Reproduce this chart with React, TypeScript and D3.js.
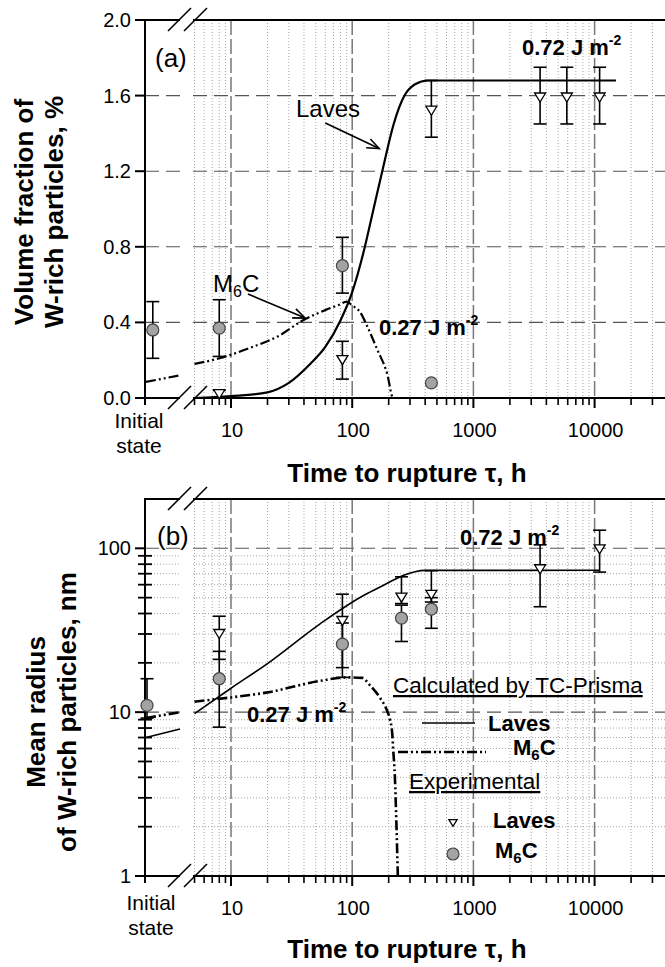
import React from 'react';
import * as d3 from 'd3';

const W = 665;
const H = 967;

// ---------- shared axis data ----------
const xMajorTicks = [10, 100, 1000, 10000];
const xMajorLabels = ['10', '100', '1000', '10000'];
const xDomain: [number, number] = [5, 50000];

// ---------- panel (a) ----------
const yTicksA = [0, 0.4, 0.8, 1.2, 1.6, 2.0];
const yTickLabelsA = ['0.0', '0.4', '0.8', '1.2', '1.6', '2.0'];
const lavesCurveA: [number, number][] = [
  [5, 0], [10, 0.01], [20, 0.03], [30, 0.08], [45, 0.18], [60, 0.27], [80, 0.41],
  [100, 0.56], [125, 0.78], [150, 1.0], [180, 1.22], [220, 1.45], [270, 1.6],
  [330, 1.66], [420, 1.68], [15000, 1.68],
];
const m6cCurveA: [number, number][] = [
  [5, 0.18], [8, 0.21], [15, 0.27], [25, 0.33], [39, 0.41], [60, 0.465], [79, 0.495],
  [90, 0.51], [100, 0.49], [116, 0.455], [133, 0.38], [160, 0.26], [194, 0.13],
  [218, 0], [2000, 0],
];
const m6cPreA: [number, number][] = [[0, 0.085], [1, 0.12]];
const lavesPointsA = [
  { t: 8, v: 0.02, lo: 0.0, hi: 0.04 },
  { t: 83, v: 0.2, lo: 0.1, hi: 0.3 },
  { t: 450, v: 1.52, lo: 1.38, hi: 1.68 },
  { t: 3550, v: 1.59, lo: 1.45, hi: 1.75 },
  { t: 5900, v: 1.59, lo: 1.45, hi: 1.75 },
  { t: 11000, v: 1.59, lo: 1.45, hi: 1.75 },
];
const m6cPointsA = [
  { t: 8, v: 0.37, lo: 0.22, hi: 0.52 },
  { t: 83, v: 0.7, lo: 0.555, hi: 0.85 },
  { t: 450, v: 0.08, lo: 0.08, hi: 0.08 },
];
const m6cInitialA = { p: 0.2, v: 0.36, lo: 0.21, hi: 0.51 };

// ---------- panel (b) ----------
const yTicksB = [1, 10, 100];
const yTickLabelsB = ['1', '10', '100'];
const lavesCurveB: [number, number][] = [
  [5, 9.8], [10, 14], [20, 19.8], [54, 34.5], [121, 51], [170, 58], [249, 67],
  [274, 69], [330, 72], [400, 73.3], [11000, 73.5],
];
const lavesPreB: [number, number][] = [[0, 7.0], [1, 7.9]];
const m6cCurveB: [number, number][] = [
  [5, 11.6], [10, 12.3], [20, 13.2], [54, 15.5], [90, 16.3], [121, 16.2], [141, 14.5],
  [170, 12.2], [193, 10.3], [205, 9], [214, 7.4], [218, 5.9], [225, 4], [232, 2], [238, 1],
];
const m6cPreB: [number, number][] = [[0, 9.2], [1, 10]];
const lavesPointsB = [
  { t: 8, v: 30, lo: 21, hi: 38.5 },
  { t: 83, v: 36, lo: 18.7, hi: 52.5 },
  { t: 255, v: 50, lo: 46, hi: 67 },
  { t: 450, v: 52, lo: 47, hi: 73 },
  { t: 3550, v: 74.5, lo: 44, hi: 105 },
  { t: 11000, v: 98.6, lo: 71.6, hi: 129 },
];
const m6cPointsB = [
  { t: 8, v: 16, lo: 8.1, hi: 23.5 },
  { t: 83, v: 26, lo: 16.3, hi: 35 },
  { t: 255, v: 37.5, lo: 27, hi: 45 },
  { t: 450, v: 42.5, lo: 32.5, hi: 50 },
];
const m6cInitialB = { p: 0.03, v: 11, lo: 9.2, hi: 16 };

// ---------- layout ----------
const AXIS_X = 145;
const BREAK_GAP: [number, number] = [180, 193];
const FONT = 'Liberation Sans, Arial, Helvetica, sans-serif';
const DASH_DOT_DOT = '10 3 2 3 2 3';

const x = d3.scaleLog().domain(xDomain).range([231 - 121.2 * Math.log10(2), 231 + 121.2 * Math.log10(5000)]);
const xPre = d3.scaleLinear().domain([0, 1]).range([146, 180]);

const minorX: number[] = [];
for (let d = 0; d <= 4; d++) for (let k = 2; k <= 9; k++) {
  const v = k * Math.pow(10, d);
  if (v >= 5 && v <= 40000) minorX.push(v);
}
const minorYB: number[] = [];
for (let d = 0; d <= 1; d++) for (let k = 2; k <= 9; k++) minorYB.push(k * Math.pow(10, d));

type YScale = (v: number) => number;

function hSegments(y: number, key: string, props: any) {
  return [
    <line key={key + 'a'} x1={AXIS_X} x2={BREAK_GAP[0]} y1={y} y2={y} {...props} />,
    <line key={key + 'b'} x1={BREAK_GAP[1]} x2={W + 20} y1={y} y2={y} {...props} />,
  ];
}

function Slash({ cx, cy }: { cx: number; cy: number }) {
  return <line x1={cx - 11} y1={cy + 11} x2={cx + 12} y2={cy - 12} stroke="#000" strokeWidth={1.6} />;
}

function Triangle({ cx, cy, s = 1 }: { cx: number; cy: number; s?: number }) {
  return (
    <path
      d={`M${cx - 5.5 * s},${cy - 4.5 * s} L${cx + 5.5 * s},${cy - 4.5 * s} L${cx},${cy + 4.5 * s} Z`}
      fill="#fff" stroke="#000" strokeWidth={1.3}
    />
  );
}

function Circle({ cx, cy }: { cx: number; cy: number }) {
  return <circle cx={cx} cy={cy} r={6} fill="#a3a3a3" stroke="#444" strokeWidth={1.2} />;
}

function ErrBar({ cx, y1, y2 }: { cx: number; y1: number; y2: number }) {
  if (Math.abs(y1 - y2) < 0.5) return null;
  return (
    <g stroke="#000" strokeWidth={1.6}>
      <line x1={cx} x2={cx} y1={y1} y2={y2} />
      <line x1={cx - 6.5} x2={cx + 6.5} y1={y1} y2={y1} />
      <line x1={cx - 6.5} x2={cx + 6.5} y1={y2} y2={y2} />
    </g>
  );
}

function Arrow({ x1, y1, x2, y2 }: { x1: number; y1: number; x2: number; y2: number }) {
  const a = Math.atan2(y2 - y1, x2 - x1);
  const L = 13, sp = 0.38;
  const p1 = [x2 - L * Math.cos(a - sp), y2 - L * Math.sin(a - sp)];
  const p2 = [x2 - L * Math.cos(a + sp), y2 - L * Math.sin(a + sp)];
  return (
    <g stroke="#000" strokeWidth={1.6} fill="none">
      <line x1={x1} y1={y1} x2={x2} y2={y2} />
      <path d={`M${p1[0]},${p1[1]} L${x2},${y2} L${p2[0]},${p2[1]}`} />
    </g>
  );
}

function Frame({ top, bottom, y, yTicks, yLabels, minorY, yGridMajor, initialLabelX, initialY }: any) {
  const els: any[] = [];
  // vertical minor dotted grid
  minorX.forEach((v, i) => {
    els.push(<line key={'vm' + i} x1={x(v)} x2={x(v)} y1={top} y2={bottom} stroke="#a8a8a8" strokeWidth={1} strokeDasharray="1 2" />);
  });
  // horizontal minor dotted grid
  (minorY || []).forEach((v: number, i: number) => {
    els.push(...hSegments(y(v), 'hm' + i, { stroke: '#a8a8a8', strokeWidth: 1, strokeDasharray: '1 2' }));
  });
  // horizontal major dashed grid
  yGridMajor.forEach((v: number, i: number) => {
    els.push(...hSegments(y(v), 'hM' + i, { stroke: '#555', strokeWidth: 1.1, strokeDasharray: '14 7' }));
  });
  // vertical major dashed grid
  xMajorTicks.forEach((v, i) => {
    els.push(<line key={'vM' + i} x1={x(v)} x2={x(v)} y1={top} y2={bottom} stroke="#777" strokeWidth={1.5} strokeDasharray="15 4" />);
  });
  // axes
  els.push(<line key="ax-l" x1={AXIS_X} x2={AXIS_X} y1={top - 1} y2={bottom + 7} stroke="#000" strokeWidth={2} />);
  els.push(...hSegments(top, 'ax-t', { stroke: '#000', strokeWidth: 2 }));
  els.push(...hSegments(bottom, 'ax-b', { stroke: '#000', strokeWidth: 2 }));
  // slashes
  [BREAK_GAP[0] - 1, BREAK_GAP[1] + 2].forEach((cx, i) => {
    els.push(<Slash key={'st' + i} cx={cx} cy={top} />);
    els.push(<Slash key={'sb' + i} cx={cx} cy={bottom} />);
  });
  // x ticks
  minorX.forEach((v, i) => {
    els.push(<line key={'xt' + i} x1={x(v)} x2={x(v)} y1={bottom} y2={bottom + 7} stroke="#000" strokeWidth={1.6} />);
  });
  xMajorTicks.forEach((v, i) => {
    els.push(<line key={'xT' + i} x1={x(v)} x2={x(v)} y1={bottom} y2={bottom + 10} stroke="#000" strokeWidth={2} />);
    els.push(
      <text key={'xl' + i} x={x(v) + 1} y={bottom + 39} textAnchor="middle" fontSize={20} fontFamily={FONT}>
        {xMajorLabels[i]}
      </text>
    );
  });
  // y ticks
  yTicks.forEach((v: number, i: number) => {
    els.push(<line key={'yT' + i} x1={AXIS_X - 10} x2={AXIS_X} y1={y(v)} y2={y(v)} stroke="#000" strokeWidth={2} />);
    els.push(
      <text key={'yl' + i} x={AXIS_X - 14} y={y(v) + 7} textAnchor="end" fontSize={20} fontFamily={FONT}>
        {yLabels[i]}
      </text>
    );
  });
  (minorY || []).forEach((v: number, i: number) => {
    els.push(<line key={'ym' + i} x1={AXIS_X - 7} x2={AXIS_X + 7} y1={y(v)} y2={y(v)} stroke="#000" strokeWidth={1.8} />);
  });
  // initial state label
  els.push(
    <text key="init" x={initialLabelX} y={bottom + initialY} textAnchor="middle" fontSize={21} fontFamily={FONT}>
      <tspan x={initialLabelX}>Initial</tspan>
      <tspan x={initialLabelX} dy={25}>state</tspan>
    </text>
  );
  return <g>{els}</g>;
}

function M6C({ size, sub }: { size: number; sub: number }) {
  return (
    <>
      <tspan>M</tspan>
      <tspan fontSize={sub} dy={size * 0.22}>6</tspan>
      <tspan dy={-size * 0.22}>C</tspan>
    </>
  );
}

function Energy({ xPos, yPos, label }: { xPos: number; yPos: number; label: string }) {
  return (
    <text x={xPos} y={yPos} fontSize={22} fontWeight="bold" fontFamily={FONT}>
      {label}
      <tspan fontSize={14} dy={-10}>-2</tspan>
    </text>
  );
}

export default function App() {
  // ---------- panel (a) scales ----------
  const topA = 20, botA = 398;
  const yA = d3.scaleLinear().domain([0, 2]).range([botA, topA]);
  // ---------- panel (b) scales ----------
  const topB = 499, botB = 876;
  const yB = d3.scaleLog().domain([1, 200]).range([botB, topB]);

  const lineA = d3.line<[number, number]>().x(d => x(d[0])).y(d => yA(d[1])).curve(d3.curveMonotoneX);
  const lineAPre = d3.line<[number, number]>().x(d => xPre(d[0])).y(d => yA(d[1]));
  const lineB = d3.line<[number, number]>().x(d => x(d[0])).y(d => yB(d[1])).curve(d3.curveMonotoneX);
  const lineBPre = d3.line<[number, number]>().x(d => xPre(d[0])).y(d => yB(d[1]));

  return (
    <svg width={W} height={H} viewBox={`0 0 ${W} ${H}`} style={{ position: 'absolute', left: 0, top: 0, background: '#fff' }}>
      <rect x={0} y={0} width={W} height={H} fill="#fff" />

      {/* ================= PANEL (a) ================= */}
      <Frame top={topA} bottom={botA} y={yA} yTicks={yTicksA} yLabels={yTickLabelsA}
        yGridMajor={[0.4, 0.8, 1.2, 1.6]} initialLabelX={139} initialY={30} />

      {/* curves */}
      <path d={lineA(lavesCurveA) || ''} fill="none" stroke="#000" strokeWidth={2.2} />
      <path d={lineA(m6cCurveA) || ''} fill="none" stroke="#000" strokeWidth={2.2} strokeDasharray={DASH_DOT_DOT} />
      <path d={lineAPre(m6cPreA) || ''} fill="none" stroke="#000" strokeWidth={2.2} strokeDasharray={DASH_DOT_DOT} />

      {/* error bars + points */}
      {lavesPointsA.map((d, i) => <ErrBar key={'la' + i} cx={x(d.t)} y1={yA(d.lo)} y2={yA(d.hi)} />)}
      {m6cPointsA.map((d, i) => <ErrBar key={'ma' + i} cx={x(d.t)} y1={yA(d.lo)} y2={yA(d.hi)} />)}
      <ErrBar cx={xPre(m6cInitialA.p)} y1={yA(m6cInitialA.lo)} y2={yA(m6cInitialA.hi)} />
      {lavesPointsA.map((d, i) => <Triangle key={'lat' + i} cx={x(d.t)} cy={yA(d.v)} />)}
      {m6cPointsA.map((d, i) => <Circle key={'mac' + i} cx={x(d.t)} cy={yA(d.v)} />)}
      <Circle cx={xPre(m6cInitialA.p)} cy={yA(m6cInitialA.v)} />

      {/* annotations */}
      <text x={155} y={67} fontSize={26} fontFamily={FONT}>(a)</text>
      <text x={296} y={117} fontSize={24} fontFamily={FONT}>Laves</text>
      <Arrow x1={x(60)} y1={yA(1.455)} x2={x(167)} y2={yA(1.32)} />
      <text x={213} y={292} fontSize={24} fontFamily={FONT}><M6C size={24} sub={16} /></text>
      <Arrow x1={x(13.8)} y1={yA(0.55)} x2={x(40.9)} y2={yA(0.423)} />
      <Energy xPos={522} yPos={55} label="0.72 J m" />
      <Energy xPos={379} yPos={335} label="0.27 J m" />

      {/* axis titles */}
      <text transform="translate(33,212) rotate(-90)" textAnchor="middle" fontSize={26} fontWeight="bold" fontFamily={FONT}>Volume fraction of</text>
      <text transform="translate(63,212) rotate(-90)" textAnchor="middle" fontSize={26} fontWeight="bold" fontFamily={FONT}>W-rich particles, %</text>
      <text x={407} y={482} textAnchor="middle" fontSize={26} fontWeight="bold" fontFamily={FONT}>Time to rupture τ, h</text>

      {/* ================= PANEL (b) ================= */}
      <Frame top={topB} bottom={botB} y={yB} yTicks={yTicksB} yLabels={yTickLabelsB} minorY={minorYB}
        yGridMajor={[10, 100]} initialLabelX={151} initialY={34} />

      <path d={lineB(lavesCurveB) || ''} fill="none" stroke="#000" strokeWidth={1.6} />
      <path d={lineBPre(lavesPreB) || ''} fill="none" stroke="#000" strokeWidth={1.6} />
      <path d={lineB(m6cCurveB) || ''} fill="none" stroke="#000" strokeWidth={2.6} strokeDasharray={DASH_DOT_DOT} />
      <path d={lineBPre(m6cPreB) || ''} fill="none" stroke="#000" strokeWidth={2.6} strokeDasharray={DASH_DOT_DOT} />

      {lavesPointsB.map((d, i) => <ErrBar key={'lb' + i} cx={x(d.t)} y1={yB(d.lo)} y2={yB(d.hi)} />)}
      {m6cPointsB.map((d, i) => <ErrBar key={'mb' + i} cx={x(d.t)} y1={yB(d.lo)} y2={yB(d.hi)} />)}
      <ErrBar cx={xPre(m6cInitialB.p)} y1={yB(m6cInitialB.lo)} y2={yB(m6cInitialB.hi)} />
      {lavesPointsB.map((d, i) => <Triangle key={'lbt' + i} cx={x(d.t)} cy={yB(d.v)} />)}
      {m6cPointsB.map((d, i) => <Circle key={'mbc' + i} cx={x(d.t)} cy={yB(d.v)} />)}
      <Circle cx={xPre(m6cInitialB.p)} cy={yB(m6cInitialB.v)} />

      <text x={157} y={545} fontSize={26} fontFamily={FONT}>(b)</text>
      <Energy xPos={460} yPos={545} label="0.72 J m" />
      <Energy xPos={247} yPos={722} label="0.27 J m" />

      {/* legend */}
      <text x={393} y={693} fontSize={22.5} fontFamily={FONT} style={{ textDecoration: 'underline' }}>Calculated by TC-Prisma</text>
      <line x1={422} x2={475} y1={723} y2={723} stroke="#000" strokeWidth={1.6} />
      <text x={488} y={731} fontSize={22} fontWeight="bold" fontFamily={FONT}>Laves</text>
      <line x1={398} x2={486} y1={752} y2={752} stroke="#000" strokeWidth={2.6} strokeDasharray={DASH_DOT_DOT} />
      <text x={513} y={755} fontSize={22} fontWeight="bold" fontFamily={FONT}><M6C size={22} sub={15} /></text>
      <text x={409} y={789} fontSize={22.5} fontFamily={FONT} style={{ textDecoration: 'underline' }}>Experimental</text>
      <Triangle cx={453} cy={823} s={0.75} />
      <text x={493} y={828} fontSize={22} fontWeight="bold" fontFamily={FONT}>Laves</text>
      <Circle cx={453} cy={854} />
      <text x={495} y={858} fontSize={22} fontWeight="bold" fontFamily={FONT}><M6C size={22} sub={15} /></text>

      <text transform="translate(45,712) rotate(-90)" textAnchor="middle" fontSize={26} fontWeight="bold" fontFamily={FONT}>Mean radius</text>
      <text transform="translate(76,712) rotate(-90)" textAnchor="middle" fontSize={26} fontWeight="bold" fontFamily={FONT}>of W-rich particles, nm</text>
      <text x={407} y={958} textAnchor="middle" fontSize={26} fontWeight="bold" fontFamily={FONT}>Time to rupture τ, h</text>
    </svg>
  );
}
